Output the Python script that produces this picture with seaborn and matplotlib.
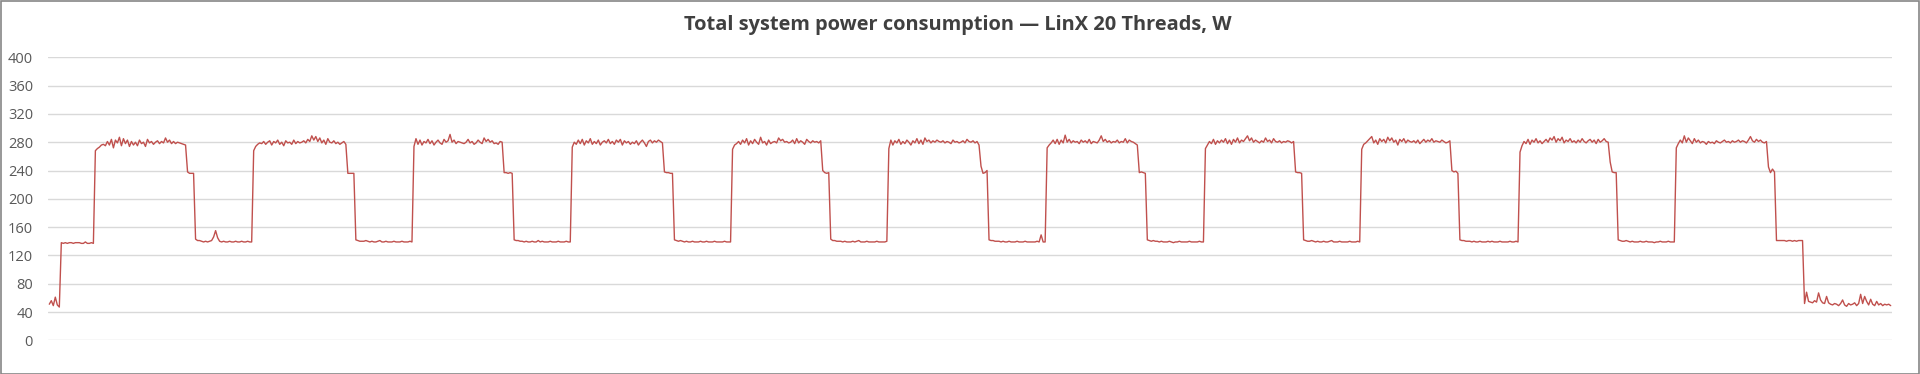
import numpy as np
import pandas as pd
import matplotlib
matplotlib.use("Agg")
import matplotlib.pyplot as plt
from matplotlib.patches import Rectangle
import seaborn as sns

TITLE = "Total system power consumption \u2014 LinX 20 Threads, W"
Y_TICKS = [0, 40, 80, 120, 160, 200, 240, 280, 320, 360, 400]

idle_start = [51, 56, 49, 61, 50, 47]
low_start = [138, 137, 138, 137, 138, 138, 137, 138, 138, 138, 137, 137, 139, 137, 137, 138, 137]

c1_high = [268, 271, 273, 276, 277, 275, 281, 276, 284, 272, 283, 279, 287, 275, 285, 278, 283, 274, 281, 276,
           280, 275, 283, 278, 280, 274, 284, 279, 281, 277, 280, 282, 278, 281, 279, 286, 280, 283, 278, 281,
           278, 280, 279, 278, 277, 276]
c1_step = [238, 236, 236, 236]
c1_low = [143, 141, 141, 140, 139, 140, 139, 140, 141, 146, 155, 145, 140, 139, 140, 139, 139, 140, 139, 139,
          140, 139, 139, 140, 139, 139, 140, 139, 139]

c2_high = [268, 274, 277, 279, 278, 281, 277, 280, 282, 276, 281, 279, 283, 277, 280, 275, 282, 279, 280, 277,
           283, 278, 281, 279, 280, 282, 279, 284, 281, 289, 283, 288, 281, 286, 279, 283, 277, 285, 280, 279,
           282, 278, 280, 277, 279, 281, 277]
c2_step = [236, 236, 236, 236]
c2_low = [142, 141, 140, 140, 140, 141, 140, 139, 140, 139, 139, 140, 141, 139, 139, 140, 139, 139, 139, 140,
          139, 139, 139, 140, 139, 139, 139, 140, 139]

c3_high = [274, 285, 277, 283, 276, 281, 279, 284, 278, 282, 276, 280, 283, 279, 277, 284, 280, 282, 291, 280,
           283, 278, 281, 280, 279, 278, 280, 284, 279, 281, 277, 279, 283, 280, 278, 286, 281, 284, 280, 282,
           278, 279, 277, 281, 280]
c3_step = [237, 237, 236, 237, 236]
c3_low = [142, 141, 141, 140, 140, 139, 140, 139, 139, 140, 139, 139, 141, 139, 140, 139, 139, 139, 140, 139,
          139, 139, 140, 139, 139, 139, 140, 139, 139]

c4_high = [273, 280, 277, 283, 278, 284, 276, 282, 279, 285, 277, 281, 278, 283, 276, 280, 282, 279, 284, 278,
           281, 277, 283, 280, 284, 276, 282, 279, 281, 277, 280, 278, 282, 276, 280, 283, 279, 274, 281, 283,
           279, 282, 280, 283, 281, 279]
c4_step = [238, 237, 237, 236, 236]
c4_low = [142, 141, 140, 141, 140, 139, 140, 139, 139, 140, 139, 139, 139, 140, 139, 139, 140, 139, 139, 139,
          140, 139, 139, 139, 139, 140, 139, 139, 139]

c5_high = [270, 276, 278, 281, 277, 283, 279, 285, 276, 282, 278, 284, 280, 277, 287, 279, 281, 276, 283, 278,
           280, 281, 279, 286, 282, 284, 280, 281, 279, 280, 283, 278, 285, 279, 282, 280, 277, 284, 281, 279,
           282, 280, 281, 279, 282]
c5_step = [240, 237, 236, 237]
c5_low = [143, 141, 141, 140, 140, 140, 139, 140, 139, 139, 139, 140, 139, 140, 141, 139, 139, 139, 140, 139,
          139, 139, 139, 140, 139, 139, 139, 139, 140]

c6_high = [271, 283, 276, 282, 279, 284, 277, 281, 278, 283, 280, 276, 282, 279, 285, 278, 283, 277, 286, 281,
           283, 279, 282, 280, 283, 281, 280, 282, 279, 281, 280, 278, 283, 280, 281, 279, 280, 282, 279, 284,
           281, 280, 282, 279, 281, 276]
c6_step = [246, 236, 237, 240]
c6_low = [142, 141, 141, 140, 140, 140, 139, 140, 139, 139, 140, 139, 139, 139, 140, 139, 139, 139, 140, 139,
          139, 139, 139, 139, 140, 139, 149, 139, 139]

c7_high = [272, 276, 279, 283, 278, 284, 277, 283, 279, 290, 280, 284, 279, 282, 280, 281, 278, 283, 280, 282,
           279, 284, 278, 281, 280, 279, 283, 289, 281, 284, 280, 282, 279, 281, 280, 283, 279, 281, 280, 285,
           279, 283, 281, 280, 278, 276]
c7_step = [237, 238, 237, 236]
c7_low = [142, 141, 140, 141, 140, 140, 139, 140, 139, 139, 139, 140, 139, 138, 139, 139, 140, 139, 139, 139,
          139, 140, 139, 139, 139, 139, 140, 139, 139]

c8_high = [271, 276, 281, 278, 284, 277, 282, 279, 283, 280, 285, 278, 283, 277, 284, 280, 286, 279, 283, 281,
           285, 289, 282, 286, 280, 283, 281, 279, 282, 280, 286, 281, 283, 279, 285, 281, 280, 282, 279, 281,
           280, 282, 281, 279, 281]
c8_step = [238, 237, 237, 236]
c8_low = [142, 141, 140, 140, 141, 140, 139, 140, 139, 139, 140, 139, 139, 140, 141, 139, 139, 139, 140, 139,
          139, 139, 139, 140, 139, 139, 139, 140, 139]

c9_high = [270, 277, 279, 282, 285, 288, 279, 283, 277, 285, 281, 284, 279, 287, 282, 286, 280, 283, 276, 284,
           281, 285, 279, 283, 281, 280, 282, 279, 283, 278, 281, 284, 280, 283, 281, 285, 280, 282, 281, 280,
           283, 281, 279, 280, 282]
c9_step = [240, 238, 239, 236]
c9_low = [142, 141, 141, 140, 140, 140, 139, 140, 139, 139, 140, 139, 139, 139, 140, 139, 140, 139, 139, 139,
          140, 139, 139, 139, 139, 140, 139, 139, 140, 139]

c10_high = [266, 275, 281, 278, 284, 277, 283, 280, 285, 279, 282, 278, 281, 284, 280, 286, 283, 288, 280, 285,
            282, 287, 279, 283, 281, 285, 280, 282, 279, 283, 280, 285, 281, 279, 282, 284, 280, 283, 278, 284,
            280, 282, 285, 281, 280]
c10_step = [252, 238, 237, 237]
c10_low = [142, 141, 140, 140, 141, 140, 139, 140, 139, 139, 139, 140, 139, 139, 140, 139, 139, 139, 138, 139,
           139, 140, 139, 139, 139, 140, 139, 139, 139]

c11_high = [272, 278, 283, 279, 289, 280, 286, 282, 278, 285, 280, 283, 279, 281, 280, 277, 281, 279, 280, 278,
            282, 280, 279, 281, 283, 280, 281, 279, 282, 280, 281, 283, 280, 282, 281, 279, 283, 288, 282, 280,
            284, 281, 283, 280, 279, 281]
c11_step = [245, 237, 242, 238]
c11_low = [141, 141, 141, 141, 141, 140, 141, 141, 140, 141, 140, 141, 141, 141]

idle_end = [52, 68, 55, 54, 53, 56, 54, 67, 57, 53, 52, 62, 53, 51, 50, 52, 51, 49, 52, 57,
            50, 48, 52, 50, 51, 53, 49, 52, 65, 52, 62, 55, 50, 58, 51, 49, 55, 50, 52, 49,
            51, 50, 51, 49]

segments = [idle_start, low_start,
            c1_high, c1_step, c1_low, c2_high, c2_step, c2_low, c3_high, c3_step, c3_low,
            c4_high, c4_step, c4_low, c5_high, c5_step, c5_low, c6_high, c6_step, c6_low,
            c7_high, c7_step, c7_low, c8_high, c8_step, c8_low, c9_high, c9_step, c9_low,
            c10_high, c10_step, c10_low, c11_high, c11_step, c11_low, idle_end]
values = [v for seg in segments for v in seg]
df = pd.DataFrame({"sample": np.arange(len(values)), "watts": values})

sns.set_style("white")
plt.rcParams["font.family"] = ["Open Sans", "DejaVu Sans"]

fig = plt.figure(figsize=(19.2, 3.74), dpi=100)
ax = fig.add_axes([48.3 / 1920, 1 - 340.3 / 374, (1891.7 - 48.3) / 1920, (340.3 - 57.3) / 374])

sns.lineplot(data=df, x="sample", y="watts", color="#C0504D", linewidth=1.0, ax=ax)

ax.set_xlim(-0.5, len(values) - 0.5)
ax.set_ylim(0, 400)
ax.set_yticks(Y_TICKS)
ax.set_yticklabels([str(t) for t in Y_TICKS], fontsize=10.5, color="#595959")
ax.set_xticks([])
ax.tick_params(axis="y", length=0, pad=11)
ax.set_xlabel("")
ax.set_ylabel("")
ax.grid(axis="y", color="#D9D9D9", linewidth=1.0)
ax.set_axisbelow(True)
for s in ax.spines.values():
    s.set_visible(False)

fig.text(958 / 1920, 1 - 25 / 374, TITLE, ha="center", va="center", fontsize=14.4,
         fontweight="bold", color="#404040")

fig.patches.append(Rectangle((0.5 / 1920, 0.5 / 374), 1918 / 1920, 372.5 / 374,
                             transform=fig.transFigure, fill=False, edgecolor="#868686",
                             linewidth=1.2))

fig.savefig("out.png", dpi=100, facecolor="white")
